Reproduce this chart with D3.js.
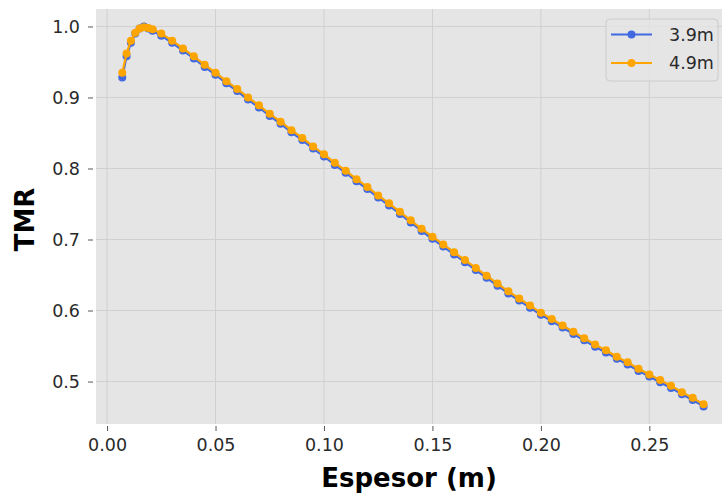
<!DOCTYPE html>
<html><head><meta charset="utf-8">
<script src="https://cdn.jsdelivr.net/npm/d3@7"></script>
<style>body{margin:0;background:#fff}svg{display:block;font-family:"DejaVu Sans",sans-serif}</style>
</head><body><svg id="c" width="723" height="493"></svg>
<script>
const espesor = [0.007,0.009,0.011,0.013,0.015,0.017,0.019,0.021,0.025,
0.030,0.035,0.040,0.045,0.050,0.055,0.060,0.065,0.070,0.075,0.080,0.085,0.090,0.095,0.100,
0.105,0.110,0.115,0.120,0.125,0.130,0.135,0.140,0.145,0.150,0.155,0.160,0.165,0.170,0.175,
0.180,0.185,0.190,0.195,0.200,0.205,0.210,0.215,0.220,0.225,0.230,0.235,0.240,0.245,0.250,
0.255,0.260,0.265,0.270,0.275];
const tmr49 = [0.935,0.962,0.980,0.991,0.997,0.999,0.998,0.996,0.990,
0.980,0.969,0.958,0.946,0.935,0.923,0.912,0.900,0.889,0.877,0.866,0.854,0.843,0.831,0.820,
0.808,0.797,0.785,0.774,0.762,0.751,0.739,0.727,0.715,0.704,0.693,0.682,0.671,0.660,0.649,
0.638,0.627,0.617,0.607,0.597,0.588,0.579,0.570,0.561,0.552,0.544,0.535,0.527,0.518,0.510,
0.502,0.494,0.485,0.477,0.468];
const tmr39 = [0.928,0.958,0.977,0.990,0.997,1.000,0.997,0.994,0.987,
0.977,0.966,0.955,0.943,0.932,0.920,0.909,0.897,0.886,0.874,0.863,0.851,0.840,0.828,0.817,
0.805,0.794,0.782,0.771,0.759,0.748,0.736,0.724,0.712,0.701,0.690,0.679,0.668,0.657,0.646,
0.635,0.624,0.614,0.604,0.594,0.585,0.576,0.567,0.558,0.549,0.541,0.532,0.524,0.515,0.507,
0.499,0.491,0.482,0.474,0.465];
const seriesNames = ["3.9m","4.9m"];
const seriesColors = ["#4169E1","#FFA500"];
const xTicks = [0,0.05,0.10,0.15,0.20,0.25];
const yTicks = [0.5,0.6,0.7,0.8,0.9,1.0];

const svg = d3.select("#c");
const L=96,R=722,T=9,B=424;
const x = d3.scaleLinear().domain([-0.0051,0.2835]).range([L,R]);
const y = d3.scaleLinear().domain([0.4402,1.0246]).range([B,T]);

svg.append("rect").attr("x",L).attr("y",T).attr("width",R-L).attr("height",B-T).attr("fill","#E5E5E5");
const g = svg.append("g");
g.selectAll(".gx").data(xTicks).join("line").attr("x1",d=>x(d)).attr("x2",d=>x(d)).attr("y1",T).attr("y2",B).attr("stroke","#d0d0d0").attr("stroke-width",1);
g.selectAll(".gy").data(yTicks).join("line").attr("y1",d=>y(d)).attr("y2",d=>y(d)).attr("x1",L).attr("x2",R).attr("stroke","#d0d0d0").attr("stroke-width",1);

const xAxis = d3.axisBottom(x).tickValues(xTicks).tickFormat(d3.format(".2f")).tickSize(5).tickPadding(8);
const yAxis = d3.axisLeft(y).tickValues(yTicks).tickFormat(d3.format(".1f")).tickSize(5).tickPadding(8);
const ax = svg.append("g").attr("transform",`translate(0,${B+2})`).call(xAxis);
const ay = svg.append("g").attr("transform",`translate(${L-3},0)`).call(yAxis);
[ax,ay].forEach(a=>{a.select(".domain").remove();a.selectAll("line").attr("stroke","#555");
 a.selectAll("text").attr("fill","#2a2a2a").attr("font-size","17.5px").attr("font-family","DejaVu Sans");});

const line = d3.line().x(d=>x(d[0])).y(d=>y(d[1]));
[tmr39,tmr49].forEach((vals,i)=>{
  const pts = espesor.map((e,j)=>[e,vals[j]]);
  const s = svg.append("g");
  s.append("path").datum(pts).attr("d",line).attr("fill","none").attr("stroke",seriesColors[i]).attr("stroke-width",2.2).attr("stroke-linejoin","round");
  s.selectAll("circle").data(pts).join("circle").attr("cx",d=>x(d[0])).attr("cy",d=>y(d[1])).attr("r",4).attr("fill",seriesColors[i]);
});

svg.append("text").attr("x",(L+R)/2).attr("y",487).attr("text-anchor","middle").attr("font-weight","bold").attr("font-size","26px").attr("fill","#000").text("Espesor (m)");
svg.append("text").attr("transform",`translate(34,${(T+B)/2+3}) rotate(-90)`).attr("text-anchor","middle").attr("font-weight","bold").attr("font-size","26px").attr("fill","#000").text("TMR");

const lg = svg.append("g");
lg.append("rect").attr("x",606).attr("y",19).attr("width",112).attr("height",62).attr("rx",4).attr("fill","#E5E5E5").attr("fill-opacity",0.8).attr("stroke","#cccccc");
seriesNames.forEach((n,i)=>{
  const yy = 34.5 + i*28.5;
  lg.append("line").attr("x1",611).attr("x2",652).attr("y1",yy).attr("y2",yy).attr("stroke",seriesColors[i]).attr("stroke-width",2.2);
  lg.append("circle").attr("cx",631.5).attr("cy",yy).attr("r",4).attr("fill",seriesColors[i]);
  lg.append("text").attr("x",669).attr("y",yy).attr("dy","0.36em").attr("font-size","17.5px").attr("fill","#2a2a2a").text(n);
});
</script></body></html>
